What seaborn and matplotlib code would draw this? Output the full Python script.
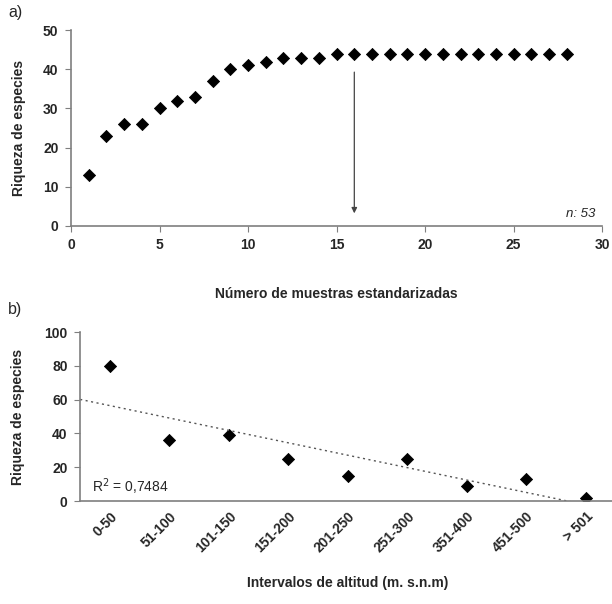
import matplotlib
matplotlib.use("Agg")
import matplotlib.pyplot as plt
import numpy as np
import pandas as pd
import seaborn as sns

# %% data
muestras = list(range(1, 29))
riqueza_a = [13, 23, 26, 26, 30, 32, 33, 37, 40, 41, 42, 43, 43, 43,
             44, 44, 44, 44, 44, 44, 44, 44, 44, 44, 44, 44, 44, 44]

intervalos = ["0-50", "51-100", "101-150", "151-200", "201-250",
              "251-300", "351-400", "451-500", "> 501"]
riqueza_b = [80, 36, 39, 25, 15, 25, 9, 13, 2]

df_a = pd.DataFrame({"muestras": muestras, "riqueza": riqueza_a})
df_b = pd.DataFrame({"pos": np.arange(len(intervalos)), "riqueza": riqueza_b})

# %% style
sns.set_style("white")
plt.rcParams["font.family"] = ["Liberation Sans", "DejaVu Sans"]
spine_col = "#7f7f7f"

fig = plt.figure(figsize=(6.12, 6.04), dpi=100)

# %% a) accumulation curve
ax1 = fig.add_axes([0.116, 0.626, 0.868, 0.324])
sns.scatterplot(data=df_a, x="muestras", y="riqueza", ax=ax1,
                marker="D", s=38, color="black", edgecolor="black", linewidth=0.6)
ax1.set_xlim(0, 30)
ax1.set_ylim(0, 50)
ax1.set_xticks(range(0, 31, 5))
ax1.set_yticks(range(0, 51, 10))
ax1.annotate("", xy=(16, 2.5), xytext=(16, 40),
             arrowprops=dict(arrowstyle="-|>", color="#444444", lw=0.9,
                             mutation_scale=8))
ax1.text(29.6, 3, "n: 53", ha="right", va="center", fontsize=9.5, style="italic")
ax1.set_xlabel("Número de muestras estandarizadas", fontsize=10,
               fontweight="bold", labelpad=25)
ax1.set_ylabel("Riqueza de especies", fontsize=10, fontweight="bold", labelpad=12)

# %% b) richness vs altitude
ax2 = fig.add_axes([0.131, 0.1705, 0.875, 0.2795])
sns.scatterplot(data=df_b, x="pos", y="riqueza", ax=ax2,
                marker="D", s=38, color="black", edgecolor="black", linewidth=0.6)
slope, intercept = np.polyfit(df_b["pos"], df_b["riqueza"], 1)
xs = np.linspace(-0.5, 8.5, 50)
ax2.plot(xs, slope * xs + intercept, color="#555555", lw=1.0, ls=(0, (1.5, 2.5)))
ax2.set_xlim(-0.5, 8.5)
ax2.set_ylim(0, 100)
ax2.set_yticks(range(0, 101, 20))
ax2.set_xticks(df_b["pos"])
ax2.set_xticklabels(intervalos, rotation=45, ha="right", va="top",
                    rotation_mode="anchor", fontsize=10, fontweight="bold")
ax2.set_xticks(np.arange(-0.5, 8.0, 1.0), minor=True)
ax2.tick_params(axis="x", which="major", length=0, pad=6)
ax2.tick_params(axis="x", which="minor", length=4, color=spine_col)
ax2.text(-0.3, 8.5, "R$^2$ = 0,7484", fontsize=10, ha="left", va="center")
ax2.set_xlabel("Intervalos de altitud (m. s.n.m)", fontsize=10,
               fontweight="bold", labelpad=15)
ax2.set_ylabel("Riqueza de especies", fontsize=10, fontweight="bold", labelpad=14)

for ax in (ax1, ax2):
    sns.despine(ax=ax)
    for s in ("left", "bottom"):
        ax.spines[s].set_color(spine_col)
        ax.spines[s].set_linewidth(1.2)
    ax.tick_params(axis="y", which="major", length=4, color=spine_col,
                   labelsize=10, left=True, pad=5)
    for lab in ax.get_yticklabels():
        lab.set_fontweight("bold")
ax1.tick_params(axis="x", length=4, color=spine_col, labelsize=10, bottom=True, pad=5)
for lab in ax1.get_xticklabels():
    lab.set_fontweight("bold")

fig.text(0.013, 0.98, "a)", fontsize=11.5, va="center")
fig.text(0.013, 0.487, "b)", fontsize=11.5, va="center")

plt.savefig("out.png", dpi=100)
